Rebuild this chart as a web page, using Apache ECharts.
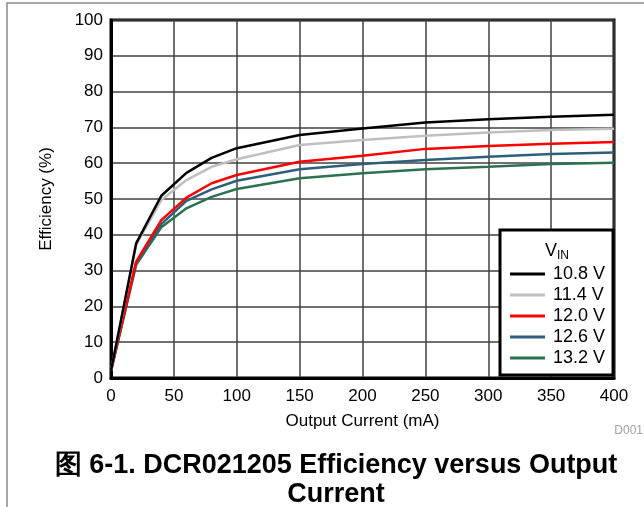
<!DOCTYPE html>
<html>
<head>
<meta charset="utf-8">
<script src="https://cdn.jsdelivr.net/npm/echarts@6/dist/echarts.min.js"></script>
<style>
  html, body { margin: 0; padding: 0; background: #fff; }
  #chart { width: 644px; height: 507px; }
</style>
</head>
<body>
<div id="chart"></div>
<script>
// output current (mA)
const current = [0, 20, 40, 60, 80, 100, 150, 200, 250, 300, 350, 400]
// efficiency (%) per input voltage
const eff108 = [2, 37.6, 50.9, 57.3, 61.5, 64.2, 67.9, 69.7, 71.4, 72.3, 73.0, 73.5]
const eff114 = [2, 37.2, 49.7, 55.3, 59.0, 61.1, 65.1, 66.5, 67.7, 68.6, 69.3, 69.6]
const eff120 = [2, 32.5, 44.1, 50.4, 54.4, 56.7, 60.4, 62.1, 64.0, 64.8, 65.4, 65.9]
const eff126 = [2, 32.2, 43.0, 49.5, 52.7, 55.1, 58.3, 59.8, 60.9, 61.8, 62.6, 63.0]
const eff132 = [2, 31.6, 42.1, 47.4, 50.6, 52.8, 55.8, 57.2, 58.3, 59.0, 59.8, 60.1]
const seriesNames = ['10.8 V', '11.4 V', '12.0 V', '12.6 V', '13.2 V']
const seriesColors = ['#000000', '#bfbfbf', '#ff0000', '#2d5f7b', '#2c7150']

const allData = [eff108, eff114, eff120, eff126, eff132]
const font = 'Liberation Sans, Arial, sans-serif'

const myChart = echarts.init(document.getElementById('chart'))

const options = {
  animation: false,
  textStyle: { fontFamily: font },
  grid: {
    left: 111,
    right: 30,
    top: 20,
    bottom: 129,
    show: true,
    borderColor: '#000',
    borderWidth: 3
  },
  xAxis: {
    type: 'value',
    min: 0,
    max: 400,
    interval: 50,
    name: 'Output Current (mA)',
    nameLocation: 'middle',
    nameGap: 35,
    nameTextStyle: { color: '#000', fontSize: 17, fontFamily: font },
    axisLine: { show: true, lineStyle: { color: '#000', width: 3 } },
    axisTick: { show: false },
    axisLabel: { color: '#000', fontSize: 17, margin: 10, fontFamily: font },
    splitLine: { show: true, lineStyle: { color: '#404040', width: 1.5 } }
  },
  yAxis: {
    type: 'value',
    min: 0,
    max: 100,
    interval: 10,
    name: 'Efficiency (%)',
    nameLocation: 'middle',
    nameGap: 56,
    nameTextStyle: { color: '#000', fontSize: 17, fontFamily: font },
    axisLine: { show: true, lineStyle: { color: '#000', width: 3 } },
    axisTick: { show: false },
    axisLabel: { color: '#000', fontSize: 17, margin: 8, fontFamily: font },
    splitLine: { show: true, lineStyle: { color: '#404040', width: 1.5 } }
  },
  legend: {
    left: 500,
    top: 230,
    orient: 'vertical',
    backgroundColor: '#fff',
    borderColor: '#000',
    borderWidth: 3,
    borderRadius: 0,
    padding: [35, 8, 8, 10],
    itemGap: 3,
    itemWidth: 35,
    itemHeight: 3,
    icon: 'rect',
    data: seriesNames,
    textStyle: { color: '#000', fontSize: 18, lineHeight: 18, fontFamily: font, padding: [0, 0, 0, 3] }
  },
  graphic: [
    {
      type: 'polyline',
      silent: true,
      shape: { points: [[7, 507], [7, 3], [644, 3]] },
      style: { stroke: '#8a8a8a', lineWidth: 1.5, fill: null }
    },
    {
      type: 'text',
      left: 545,
      top: 242,
      z: 100,
      style: {
        text: '{v|V}{s|IN}',
        rich: {
          v: { fontSize: 18, fill: '#000', fontFamily: font },
          s: { fontSize: 12, fill: '#000', fontFamily: font, padding: [10, 0, 0, 0] }
        }
      }
    },
    {
      type: 'text',
      right: 1,
      top: 425,
      style: { text: 'D001', fontSize: 12, fill: '#a0a0a0', fontFamily: font }
    },
    {
      type: 'text',
      x: 336,
      y: 480,
      style: {
        text: '图 6-1. DCR021205 Efficiency versus Output\nCurrent',
        fontSize: 27,
        fontWeight: 'bold',
        lineHeight: 29,
        fill: '#000',
        align: 'center',
        verticalAlign: 'middle',
        fontFamily: font
      }
    }
  ],
  series: seriesNames.map((name, i) => ({
    name: name,
    type: 'line',
    data: current.map((c, j) => [c, allData[i][j]]),
    showSymbol: false,
    symbol: 'none',
    color: seriesColors[i],
    lineStyle: { color: seriesColors[i], width: 2.5 },
    z: 10 - i
  }))
}

myChart.setOption(options)
</script>
</body>
</html>
